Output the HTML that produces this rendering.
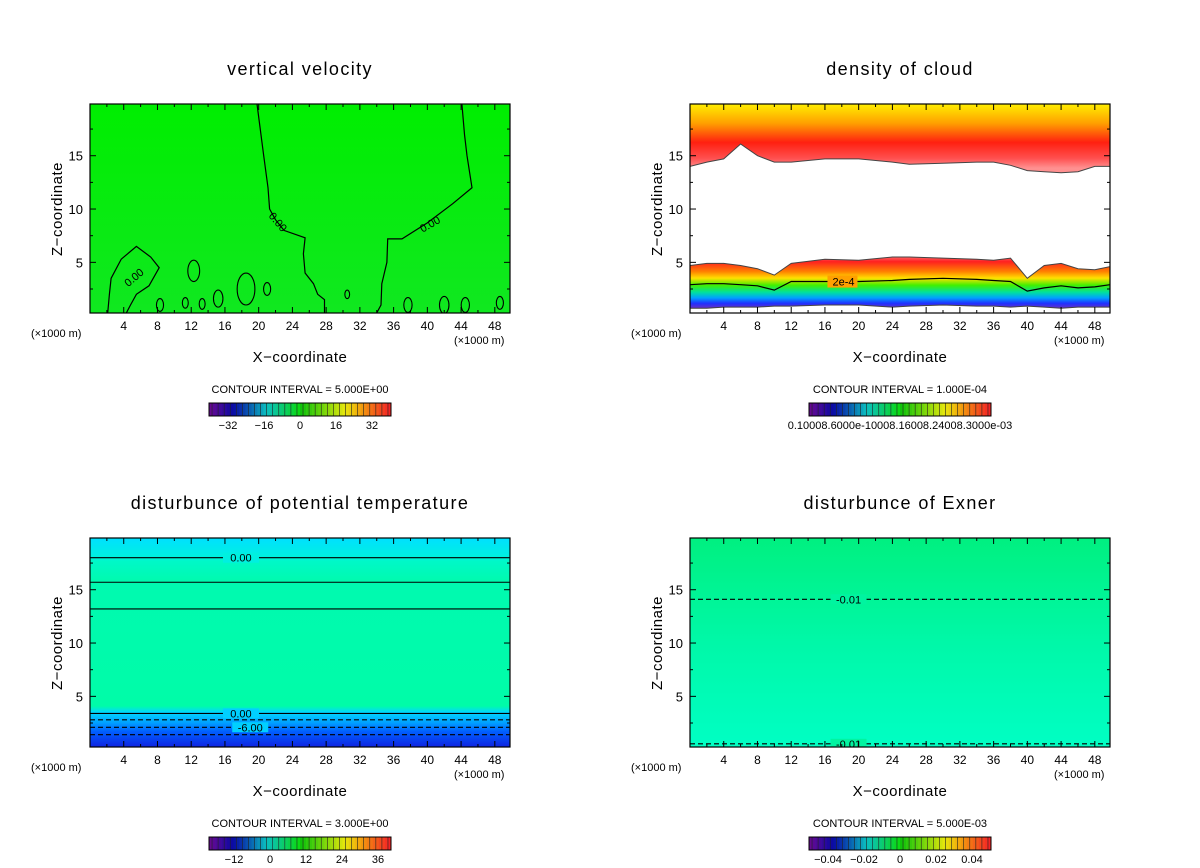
<!DOCTYPE html>
<html><head><meta charset="utf-8"><style>
html,body{margin:0;padding:0;background:#fff;}
svg{display:block;font-family:"Liberation Sans","DejaVu Sans",sans-serif;}
</style></head><body>
<svg id="fig" width="1200" height="868" viewBox="0 0 1200 868">
<defs>
<linearGradient id="gTL" x1="0" y1="0" x2="0" y2="1"><stop offset="0" stop-color="#00ee00"/><stop offset="1" stop-color="#10e820"/></linearGradient>
<linearGradient id="gTRup" gradientUnits="userSpaceOnUse" x1="0" y1="104" x2="0" y2="168"><stop offset="0" stop-color="#ffee00"/><stop offset="0.3" stop-color="#ffa000"/><stop offset="0.6" stop-color="#ff2010"/><stop offset="0.85" stop-color="#ff5050"/><stop offset="1" stop-color="#ff9090"/></linearGradient>
<linearGradient id="gTRlo" gradientUnits="userSpaceOnUse" x1="0" y1="255" x2="0" y2="310"><stop offset="0" stop-color="#ff8080"/><stop offset="0.12" stop-color="#ff2020"/><stop offset="0.3" stop-color="#ff8000"/><stop offset="0.42" stop-color="#ffe000"/><stop offset="0.55" stop-color="#40f000"/><stop offset="0.68" stop-color="#00e0a0"/><stop offset="0.78" stop-color="#00a0ff"/><stop offset="0.88" stop-color="#2030ff"/><stop offset="1" stop-color="#8030b0"/></linearGradient>
<linearGradient id="gBL" gradientUnits="userSpaceOnUse" x1="0" y1="538" x2="0" y2="748"><stop offset="0" stop-color="#00e0ff"/><stop offset="0.09" stop-color="#00f0e0"/><stop offset="0.11" stop-color="#00f8c8"/><stop offset="0.2" stop-color="#00fab0"/><stop offset="0.8" stop-color="#00fca8"/><stop offset="0.83" stop-color="#00d8ff"/><stop offset="0.88" stop-color="#00a0ff"/><stop offset="0.92" stop-color="#0060ff"/><stop offset="1" stop-color="#1020e0"/></linearGradient>
<linearGradient id="gBR" gradientUnits="userSpaceOnUse" x1="0" y1="538" x2="0" y2="748"><stop offset="0" stop-color="#00f080"/><stop offset="0.5" stop-color="#00f8a8"/><stop offset="1" stop-color="#00ffc4"/></linearGradient>
</defs>
</svg>
<script>
// axis ranges
const xDomain = [0, 49.8];
const zDomain = [0.25, 19.85];
const xTicks = [4, 8, 12, 16, 20, 24, 28, 32, 36, 40, 44, 48];
const zTicks = [5, 10, 15];
// panel titles / intervals
const titles = ["vertical velocity", "density of cloud", "disturbunce of potential temperature", "disturbunce of Exner"];
const intervals = ["CONTOUR INTERVAL = 5.000E+00", "CONTOUR INTERVAL = 1.000E-04", "CONTOUR INTERVAL = 3.000E+00", "CONTOUR INTERVAL = 5.000E-03"];
// colorbar labels
const cbLabels0 = ["-32", "-16", "0", "16", "32"];
const cbValues0 = [-32, -16, 0, 16, 32];
const cbLabels2 = ["-12", "0", "12", "24", "36"];
const cbValues2 = [-12, 0, 12, 24, 36];
const cbLabels3 = ["-0.04", "-0.02", "0", "0.02", "0.04"];
const cbValues3 = [-0.04, -0.02, 0, 0.02, 0.04];
// vertical velocity zero contours [x,z]
const wLeftX = [19.8, 20.6, 21.1, 21.3, 22.0, 23.0, 25.5, 25.3, 25.5, 26.5, 27.0, 27.8, 27.8];
const wLeftZ = [19.85, 15.0, 12.0, 10.0, 9.0, 8.0, 7.3, 5.8, 4.0, 3.0, 2.0, 1.5, 0.25];
const wRightX = [44.1, 44.4, 44.7, 45.3, 43.0, 40.0, 37.0, 35.3, 35.2, 34.6, 34.5, 34.0];
const wRightZ = [19.85, 17.0, 15.0, 12.0, 10.5, 8.7, 7.2, 7.2, 5.0, 3.0, 1.0, 0.25];
const wBubbleX = [2.1, 2.3, 2.5, 3.7, 5.5, 7.2, 8.2, 7.0, 5.5, 4.8, 4.3];
const wBubbleZ = [0.25, 2.0, 3.5, 5.3, 6.5, 5.5, 4.5, 2.8, 2.0, 1.0, 0.25];
const wLoopsX = [12.3, 8.3, 11.3, 13.3, 15.2, 21.0, 30.5, 37.7, 42.0, 44.5, 48.6, 18.5];
const wLoopsZ = [4.2, 1.0, 1.2, 1.1, 1.6, 2.5, 2.0, 1.0, 1.0, 1.0, 1.2, 2.5];
const wLoopsR = [1.0, 0.6, 0.5, 0.5, 0.8, 0.6, 0.4, 0.7, 0.8, 0.7, 0.6, 1.5];
// cloud: upper band lower edge, lower band top edge, 2e-4 contour
const cX = [0, 2, 4, 6, 8, 10, 12, 16, 20, 24, 26, 30, 34, 36, 38, 40, 42, 44, 46, 48, 49.8];
const cUpper = [14.0, 14.4, 14.7, 16.1, 15.0, 14.4, 14.4, 14.7, 14.7, 14.4, 14.2, 14.3, 14.4, 14.4, 14.1, 13.6, 13.5, 13.4, 13.5, 14.0, 14.0];
const cLowerTop = [4.7, 4.9, 4.9, 4.7, 4.4, 3.8, 4.9, 5.3, 5.2, 5.5, 5.5, 5.4, 5.3, 5.2, 5.4, 3.5, 4.7, 4.9, 4.4, 4.3, 4.6];
const c2e4 = [2.9, 3.0, 3.0, 2.9, 2.8, 2.4, 3.2, 3.2, 3.2, 3.3, 3.4, 3.5, 3.4, 3.3, 3.2, 2.3, 2.6, 2.8, 2.6, 2.7, 2.9];
const cBottom = [0.7, 0.7, 0.8, 0.8, 0.8, 0.9, 0.9, 1.0, 1.0, 0.8, 0.9, 1.0, 0.9, 0.9, 0.8, 0.9, 0.8, 0.7, 0.8, 0.8, 0.8];
// potential temperature contour levels
const thLevels = [18.0, 15.7, 13.2, 3.4, 2.8, 2.1, 1.4];
const thDashed = [false, false, false, false, true, true, true];
const thLabels = ["0.00", "", "", "0.00", "", "-6.00", ""];
// exner contour levels
const exLevels = [14.1, 0.55];
const exLabels = ["-0.01", "-0.01"];

const NS = "http://www.w3.org/2000/svg";
const svg = document.getElementById("fig");
function mk(tag, attrs, parent) {
  const e = document.createElementNS(NS, tag);
  for (const k in attrs) e.setAttribute(k, attrs[k]);
  (parent || svg).appendChild(e);
  return e;
}
function txt(s, x, y, size, anchor, parent) {
  const t = mk("text", {x: x, y: y, "font-size": size, "text-anchor": anchor || "middle", fill: "#000"}, parent);
  t.textContent = s;
  return t;
}
const panels = [[0, 0], [600, 0], [0, 434], [600, 434]];
const fills = ["url(#gTL)", "#ffffff", "url(#gBL)", "url(#gBR)"];
const names = ["vertical-velocity", "density-of-cloud", "potential-temperature", "exner"];

panels.forEach((p, i) => {
  const ox = p[0], oy = p[1];
  const L = 90 + ox, R = 510 + ox, T = 104 + oy, B = 313 + oy;
  const sx = v => L + (v - xDomain[0]) / (xDomain[1] - xDomain[0]) * (R - L);
  const sz = v => B - (v - zDomain[0]) / (zDomain[1] - zDomain[0]) * (B - T);
  const g = mk("g", {});
  
  
  const bg = mk("rect", {x: L, y: T, width: R - L, height: B - T, fill: fills[i]}, g);
  
  
  const clipId = "clip" + i;
  const cp = mk("clipPath", {id: clipId}, g);
  mk("rect", {x: L, y: T, width: R - L, height: B - T}, cp);
  const inner = mk("g", {"clip-path": "url(#" + clipId + ")"}, g);
  const poly = (xs, zs) => xs.map((x, k) => sx(x).toFixed(1) + "," + sz(zs[k]).toFixed(1)).join(" ");

  if (i === 0) {
    [[wLeftX, wLeftZ], [wRightX, wRightZ], [wBubbleX, wBubbleZ]].forEach(c => {
      const pl = mk("polyline", {points: poly(c[0], c[1]), fill: "none", stroke: "#000", "stroke-width": 1.2}, inner);
      
      
    });
    wLoopsX.forEach((x, k) => {
      const e = mk("ellipse", {cx: sx(x), cy: sz(wLoopsZ[k]), rx: wLoopsR[k] * 8.45 * 0.7, ry: wLoopsR[k] * 10.66, fill: "none", stroke: "#000", "stroke-width": 1.1}, inner);
      
      
    });
    [[22.3, 8.8, 50], [5.2, 3.6, -40], [40.3, 8.6, -30]].forEach(l => {
      const t = txt("0.00", sx(l[0]), sz(l[1]) + 4, 11, "middle", inner);
      t.setAttribute("transform", "rotate(" + l[2] + " " + sx(l[0]) + " " + sz(l[1]) + ")");
      
      
    });
  } else if (i === 1) {
    const up = mk("polygon", {points: poly(cX, cUpper) + " " + sx(49.8) + "," + T + " " + sx(0) + "," + T, fill: "url(#gTRup)", stroke: "#444", "stroke-width": 1}, inner);
    
    
    const lo = mk("polygon", {points: poly(cX, cLowerTop) + " " + poly(cX.slice().reverse(), cBottom.slice().reverse()), fill: "url(#gTRlo)", stroke: "#444", "stroke-width": 1}, inner);
    
    
    const c = mk("polyline", {points: poly(cX, c2e4), fill: "none", stroke: "#000", "stroke-width": 1.2}, inner);
    
    
    mk("rect", {x: sx(16.3), y: sz(3.2) - 6, width: 30, height: 12, fill: "#ffa000"}, inner);
    const t = txt("2e-4", sx(18.2), sz(3.2) + 4, 11, "middle", inner);
    
    
  } else {
    const lv = i === 2 ? thLevels : exLevels;
    lv.forEach((z, k) => {
      const dashed = i === 3 ? true : thDashed[k];
      const lab = i === 2 ? thLabels[k] : exLabels[k];
      const ln = mk("line", {x1: L, x2: R, y1: sz(z), y2: sz(z), stroke: "#000", "stroke-width": 1.1, "stroke-dasharray": dashed ? "5,3" : "none"}, inner);
      
      
      if (lab) {
        const lx = i === 2 ? (lab === "-6.00" ? sx(19) : sx(17.9)) : sx(18.8);
        mk("rect", {x: lx - 18, y: sz(z) - 5, width: 36, height: 10, fill: i === 2 ? (z > 10 ? "#00f0e0" : "#00d0ff") : "#00f4a0"}, inner);
        const t = txt(lab, lx, sz(z) + 4, 11, "middle", inner);
        
        
      }
    });
  }
  // frame
  mk("rect", {x: L, y: T, width: R - L, height: B - T, fill: "none", stroke: "#000", "stroke-width": 1.2}, g);
  // x ticks
  for (let v = 2; v < 50; v += 2) {
    const len = v % 4 === 0 ? 6 : 3;
    mk("line", {x1: sx(v), x2: sx(v), y1: B, y2: B - len, stroke: "#000"}, g);
    mk("line", {x1: sx(v), x2: sx(v), y1: T, y2: T + len, stroke: "#000"}, g);
  }
  xTicks.forEach(v => {
    const t = txt(String(v), sx(v), B + 17, 12, "middle", g);
    
    
  });
  for (let v = 2.5; v < 20; v += 2.5) {
    const len = v % 5 === 0 ? 6 : 3;
    mk("line", {x1: L, x2: L + len, y1: sz(v), y2: sz(v), stroke: "#000"}, g);
    mk("line", {x1: R, x2: R - len, y1: sz(v), y2: sz(v), stroke: "#000"}, g);
  }
  zTicks.forEach(v => {
    const t = txt(String(v), L - 7, sz(v) + 5, 13, "end", g);
    
    
  });
  const cx = 300 + ox;
  const tt = txt(titles[i], cx, 75 + oy, 18, "middle", g);
  tt.setAttribute("letter-spacing", "1.4");
  
  
  const yl = txt("Z\u2212coordinate", 0, 0, 15, "middle", g);
  yl.setAttribute("transform", "translate(" + (62 + ox) + "," + (209 + oy) + ") rotate(-90)");
  yl.setAttribute("letter-spacing", "0.5");
  
  
  const xl = txt("X\u2212coordinate", cx, 362 + oy, 15, "middle", g);
  xl.setAttribute("letter-spacing", "0.5");
  
  
  const u1 = txt("(\u00d71000 m)", 31 + ox, 337 + oy, 11, "start", g);
  
  
  const u2 = txt("(\u00d71000 m)", 454 + ox, 344 + oy, 11, "start", g);
  
  
  const ci = txt(intervals[i], cx, 393 + oy, 11, "middle", g);
  
  
  // colorbar
  const cb = mk("g", {}, g);
  
  
  const cbL = 209 + ox, cbR = 391 + ox, cbT = 403 + oy, cbH = 13, n = 60;
  const w = (cbR - cbL) / n;
  for (let k = 0; k < n; k++) {
    const f = k / (n - 1);
    let hue, light = 40;
    if (f < 0.5) { hue = 280 - f / 0.5 * 160; light = 30 + f * 30; } else { hue = 120 - (f - 0.5) / 0.5 * 120; light = 40 + (f - 0.5) * 30; }
    mk("rect", {x: cbL + k * w, y: cbT, width: w + 0.3, height: cbH, fill: "hsl(" + hue + ",90%," + light + "%)"}, cb);
    if (k % 2) mk("line", {x1: cbL + k * w, x2: cbL + k * w, y1: cbT, y2: cbT + cbH, stroke: "#222", "stroke-width": 0.6}, cb);
  }
  mk("rect", {x: cbL, y: cbT, width: cbR - cbL, height: cbH, fill: "none", stroke: "#000"}, cb);
  if (i === 1) {
    const t = txt("0.10008.6000e-10008.16008.24008.3000e-03", cx, 429 + oy, 11, "middle", g);
    
    
  } else {
    const labs = i === 0 ? cbLabels0 : i === 2 ? cbLabels2 : cbLabels3;
    const vals = i === 0 ? cbValues0 : i === 2 ? cbValues2 : cbValues3;
    const scale = i === 0 ? 36 / 16 : i === 2 ? 36 / 12 : 36 / 0.02;
    const zero = i === 2 ? 270 : 300;
    labs.forEach((s, k) => {
      const t = txt(s.replace("-", "\u2212"), zero + ox + vals[k] * scale, 429 + oy, 11, "middle", g);
      
      
    });
  }
});
</script>
</body></html>
